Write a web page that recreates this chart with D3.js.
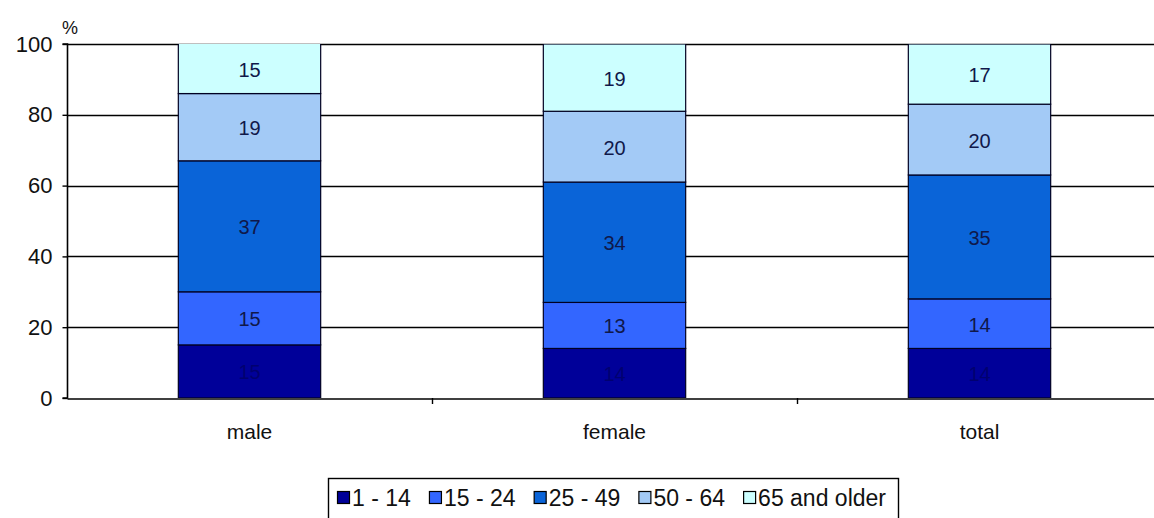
<!DOCTYPE html>
<html>
<head>
<meta charset="utf-8">
<script src="https://cdn.jsdelivr.net/npm/d3@7"></script>
<style>
  html, body { margin: 0; padding: 0; background: #fff; }
  svg { display: block; font-family: "Liberation Sans", Arial, sans-serif; }
</style>
</head>
<body>
<svg id="chart" width="1154" height="518"></svg>
<script>
// Age structure by sex, percent
const categories = ["male", "female", "total"];
const ageGroups = ["1 - 14", "15 - 24", "25 - 49", "50 - 64", "65 and older"];
const male   = [15, 15, 37, 19, 15];
const female = [14, 13, 34, 20, 19];
const total  = [14, 14, 35, 20, 17];
const yTicks = [0, 20, 40, 60, 80, 100];
const colors = ["#000099", "#3366FF", "#0A64D8", "#A3CAF6", "#CCFFFF"];

const seriesByCat = { male, female, total };
const rows = categories.map(c => {
  const r = { cat: c };
  ageGroups.forEach((g, i) => r[g] = seriesByCat[c][i]);
  return r;
});

const FS = 21;
const svg = d3.select("#chart");
const plotLeft = 67, plotTop = 44, plotBottom = 398, plotRight = 1162;

const x = d3.scaleBand().domain(categories).range([plotLeft, plotRight]).paddingInner(0).paddingOuter(0);
const y = d3.scaleLinear().domain([0, 100]).range([plotBottom, plotTop]);
const barW = x.bandwidth() * 0.39;

svg.append("defs").append("clipPath").attr("id", "plotClip")
  .append("rect").attr("x", plotLeft).attr("y", plotTop).attr("width", plotRight - plotLeft).attr("height", plotBottom - plotTop);

// gridlines
svg.append("g").selectAll("line").data(yTicks.filter(t => t > 0)).join("line")
  .attr("x1", plotLeft).attr("x2", plotRight)
  .attr("y1", d => Math.round(y(d)) + 0.5).attr("y2", d => Math.round(y(d)) + 0.5)
  .attr("stroke", "#000").attr("stroke-width", 1.6);

// stacked bars
const stack = d3.stack().keys(ageGroups)(rows);
const barsG = svg.append("g").attr("clip-path", "url(#plotClip)");
stack.forEach((layer, li) => {
  barsG.append("g").selectAll("rect").data(layer).join("rect")
    .attr("x", d => x(d.data.cat) + (x.bandwidth() - barW) / 2)
    .attr("y", d => y(d[1]))
    .attr("width", barW)
    .attr("height", d => y(d[0]) - y(d[1]))
    .attr("fill", colors[li])
    .attr("stroke", "#000022").attr("stroke-width", 1.2);
});

// segment value labels
stack.forEach((layer, li) => {
  svg.append("g").selectAll("text").data(layer).join("text")
    .attr("x", d => x(d.data.cat) + x.bandwidth() / 2)
    .attr("y", d => (y(d[0]) + y(Math.min(d[1], 100))) / 2 + 8)
    .attr("text-anchor", "middle")
    .attr("font-size", 20)
    .attr("fill", li === 0 ? "#000070" : "#10184a")
    .text(d => d.data[ageGroups[li]]);
});

// y axis
const yAxis = d3.axisLeft(y).tickValues(yTicks).tickSize(5).tickPadding(10);
const gy = svg.append("g").attr("transform", `translate(${plotLeft + 0.5},0)`).call(yAxis);
gy.select(".domain").attr("stroke", "#000").attr("stroke-width", 1.6).attr("d", `M-5,${plotTop}H0V${plotBottom}H-5`);
gy.selectAll(".tick line").attr("stroke", "#000").attr("stroke-width", 1.4);
gy.selectAll(".tick text").attr("font-size", 22).attr("fill", "#111").attr("font-family", "Liberation Sans, Arial, sans-serif");

svg.append("text").attr("x", 62).attr("y", 34).attr("font-size", 18).attr("fill", "#111").text("%");

// x axis
const xAxis = d3.axisBottom(x).tickSize(0).tickPadding(26);
const gx = svg.append("g").attr("transform", `translate(0,${plotBottom + 0.5})`).call(xAxis);
gx.select(".domain").attr("stroke", "#000").attr("stroke-width", 1.6);
gx.selectAll(".tick text").attr("font-size", FS).attr("fill", "#111").attr("font-family", "Liberation Sans, Arial, sans-serif");
// category separator ticks
svg.append("g").selectAll("line").data(categories.slice(1)).join("line")
  .attr("x1", d => Math.round(x(d)) + 0.5).attr("x2", d => Math.round(x(d)) + 0.5)
  .attr("y1", plotBottom).attr("y2", plotBottom + 6)
  .attr("stroke", "#000").attr("stroke-width", 1.4);

// legend
const lg = svg.append("g");
lg.append("rect").attr("x", 328.5).attr("y", 478.5).attr("width", 570).attr("height", 50)
  .attr("fill", "#fff").attr("stroke", "#000").attr("stroke-width", 1.4);
const items = ageGroups.map((g, i) => {
  const it = lg.append("g");
  it.append("rect").attr("x", 0.5).attr("y", 491.5).attr("width", 12).attr("height", 12)
    .attr("fill", colors[i]).attr("stroke", "#000").attr("stroke-width", 1.2);
  const t = it.append("text").attr("x", 15).attr("y", 506).attr("font-size", 23).attr("fill", "#111").text(g);
  return { it, w: 15 + t.node().getComputedTextLength() };
});
const legStart = 337, legEnd = 886;
const gap = (legEnd - legStart - d3.sum(items, d => d.w)) / (items.length - 1);
let lx = legStart;
items.forEach(d => { d.it.attr("transform", `translate(${lx},0)`); lx += d.w + gap; });
</script>
</body>
</html>
